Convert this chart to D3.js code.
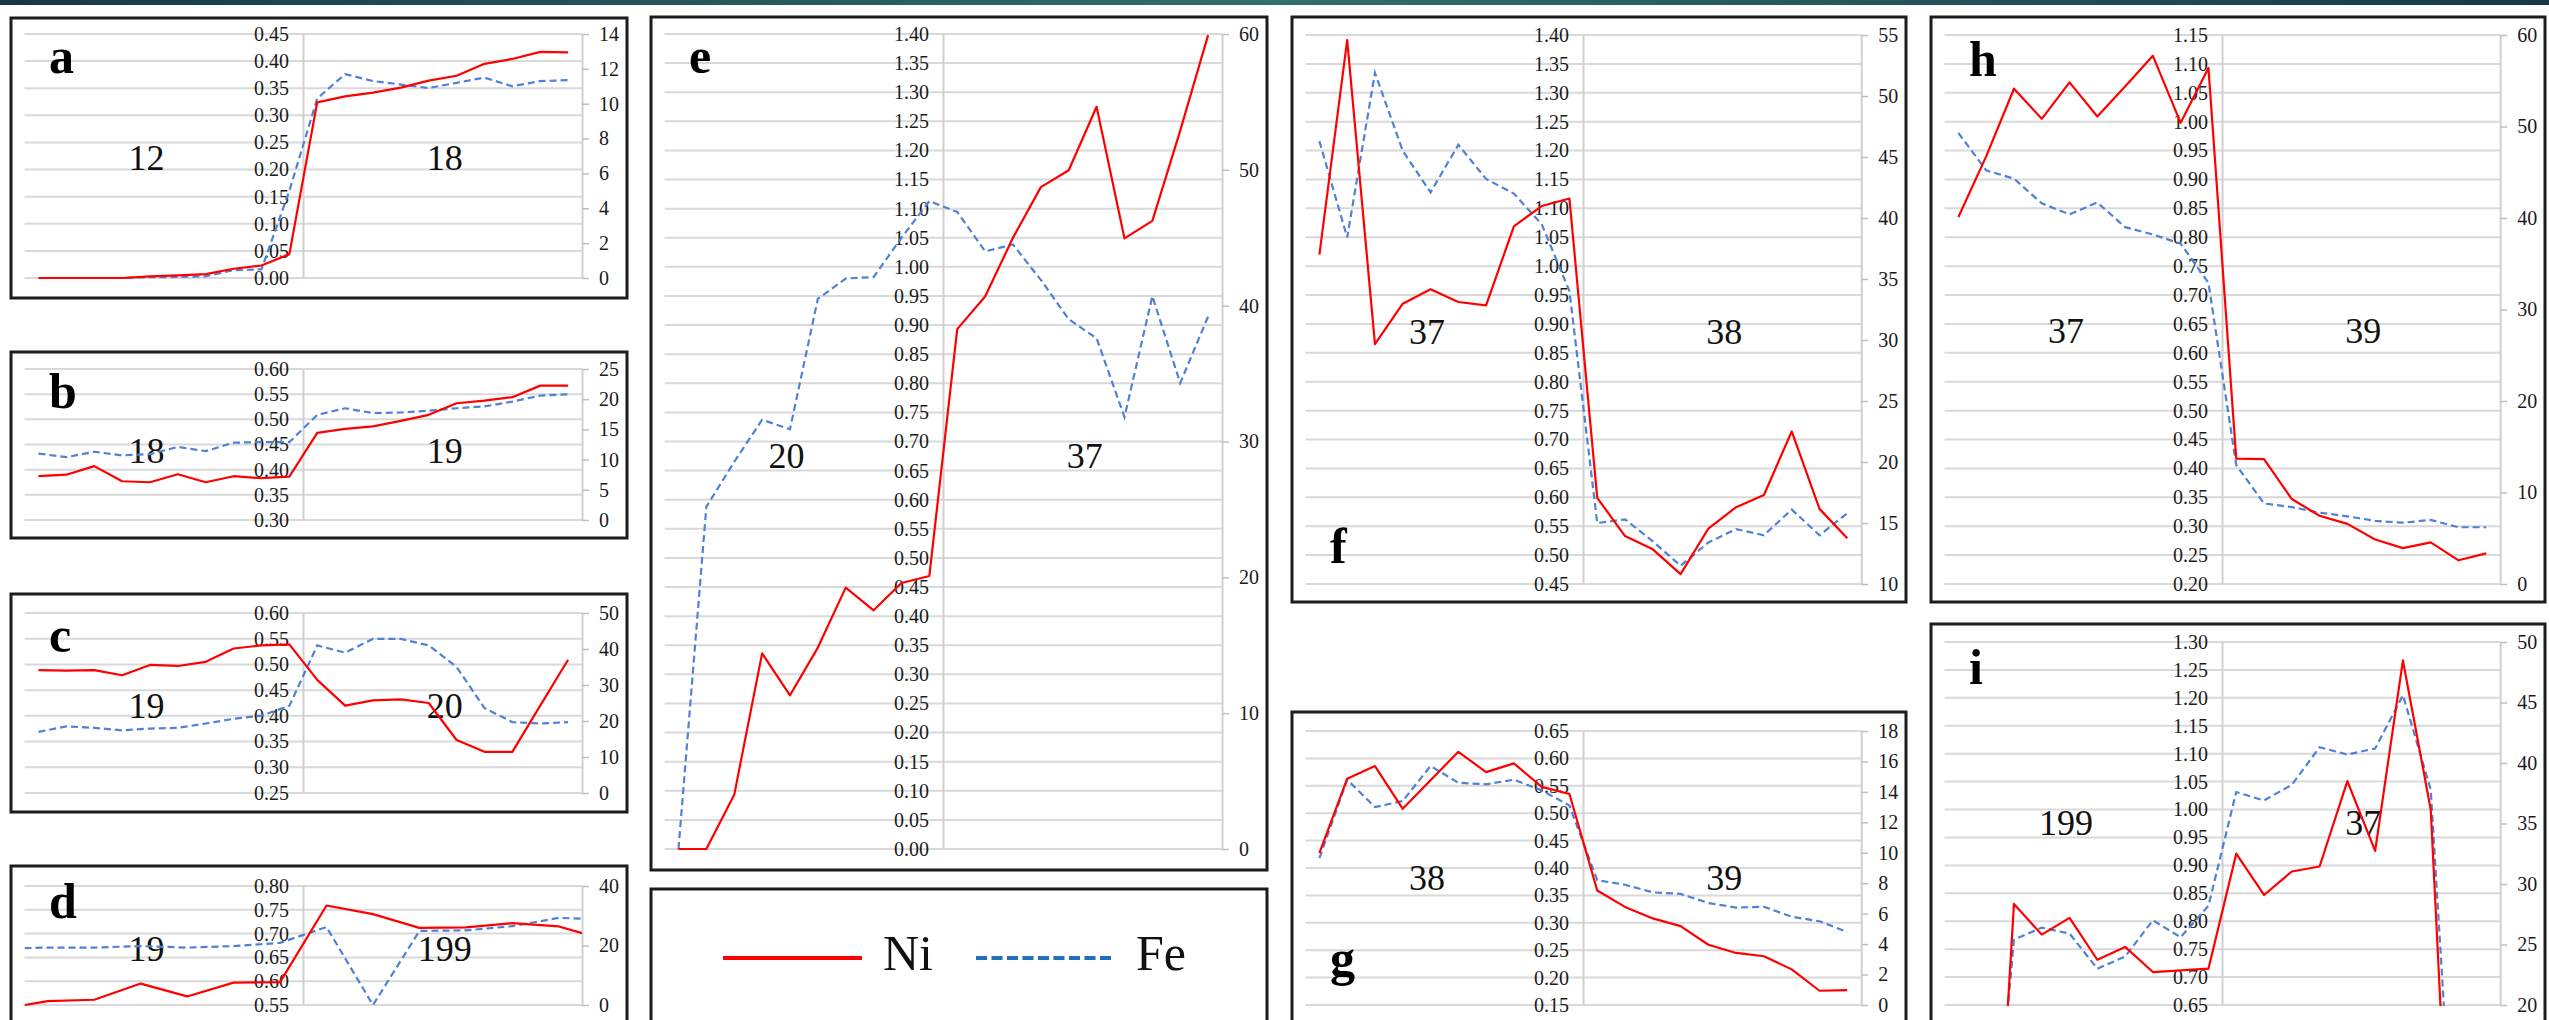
<!DOCTYPE html>
<html><head><meta charset="utf-8">
<script src="https://cdn.jsdelivr.net/npm/d3@7"></script>
<style>html,body{margin:0;padding:0;background:#fff;overflow:hidden}</style>
</head><body><svg id="c" width="2549" height="1020"></svg>
<script>
// ---------------- DATA ----------------
const seriesNames = ["Ni", "Fe"];

const aCats = ["12", "18"];
const aNi = [0,0,0,0,0.003,0.005,0.007,0.017,0.023,0.044,0.324,0.335,0.342,0.351,0.364,0.373,0.395,0.404,0.417,0.416];
const aFe = [0,0,0,0,0.05,0.06,0.1,0.45,0.5,5.0,10.3,11.7,11.3,11.1,10.9,11.2,11.5,11.0,11.3,11.35];
const aLeftTicks = d3.range(0, 0.4501, 0.05);
const aRightTicks = d3.range(0, 14.01, 2);

const bCats = ["18", "19"];
const bNi = [0.387,0.390,0.407,0.377,0.375,0.391,0.375,0.387,0.383,0.386,0.473,0.481,0.486,0.497,0.509,0.532,0.537,0.544,0.567,0.567];
const bFe = [11.0,10.4,11.3,10.7,10.9,12.1,11.4,12.8,12.9,12.9,17.4,18.5,17.7,17.8,18.1,18.5,18.8,19.6,20.6,20.8];
const bLeftTicks = d3.range(0.30, 0.6001, 0.05);
const bRightTicks = d3.range(0, 25.01, 5);

const cCats = ["19", "20"];
const cNi = [0.489,0.488,0.489,0.479,0.499,0.497,0.505,0.531,0.537,0.539,0.470,0.420,0.430,0.432,0.425,0.353,0.330,0.330,0.420,0.509];
const cFe = [17.0,18.5,18.1,17.4,17.9,18.1,19.3,20.6,21.5,24.2,41.0,39.0,42.8,42.8,41.0,35.0,23.6,19.7,19.3,19.7];
const cLeftTicks = d3.range(0.25, 0.6001, 0.05);
const cRightTicks = d3.range(0, 50.01, 10);

const dCats = ["19", "199"];
const dPos = [0,0.5,1.5,2.5,3.5,4.5,5.5,6.5,7.5,8.5,9.5,10.5,11.5,12];
const dNi = [0.550,0.558,0.561,0.595,0.568,0.597,0.598,0.759,0.741,0.712,0.713,0.722,0.715,0.701];
const dFe = [19.1,19.3,19.3,19.8,19.3,19.8,20.9,26.2,0,24.9,25.1,26.5,29.3,29.0];
const dLeftTicks = d3.range(0.55, 0.8001, 0.05);
const dRightTicks = [0, 20, 40];

const eCats = ["20", "37"];
const eNi = [0,0,0.093,0.336,0.264,0.346,0.449,0.410,0.457,0.469,0.893,0.949,1.050,1.137,1.166,1.275,1.049,1.079,1.234,1.398];
const eFe = [0,25.2,28.5,31.6,30.9,40.5,42.0,42.1,45.0,47.7,46.9,44.0,44.5,41.9,39.0,37.6,31.8,40.7,34.3,39.2];
const eLeftTicks = d3.range(0, 1.4001, 0.05);
const eRightTicks = d3.range(0, 60.01, 10);

const fCats = ["37", "38"];
const fNi = [1.020,1.391,0.865,0.935,0.960,0.938,0.932,1.069,1.104,1.117,0.599,0.533,0.510,0.467,0.546,0.583,0.604,0.714,0.580,0.529];
const fFe = [46.3,38.4,51.9,45.5,42.1,46.0,43.2,42.0,39.5,34.0,15.0,15.3,13.5,11.5,13.4,14.5,14.0,16.1,14.0,15.8];
const fLeftTicks = d3.range(0.45, 1.4001, 0.05);
const fRightTicks = d3.range(10, 55.01, 5);

const gCats = ["38", "39"];
const gNi = [0.427,0.563,0.586,0.508,0.560,0.612,0.575,0.591,0.548,0.535,0.359,0.329,0.308,0.294,0.260,0.245,0.239,0.215,0.176,0.177];
const gFe = [9.65,14.8,13.0,13.4,15.7,14.6,14.5,14.8,14.1,13.1,8.2,7.9,7.4,7.3,6.7,6.4,6.45,5.8,5.5,4.8];
const gLeftTicks = d3.range(0.15, 0.6501, 0.05);
const gRightTicks = d3.range(0, 18.01, 2);

const hCats = ["37", "39"];
const hNi = [0.835,0.940,1.057,1.005,1.068,1.009,1.061,1.114,0.998,1.093,0.417,0.416,0.347,0.318,0.304,0.277,0.262,0.272,0.241,0.253];
const hFe = [49.3,45.2,44.3,41.6,40.4,41.7,39.0,38.2,37.2,32.9,13.0,8.8,8.4,7.8,7.4,6.9,6.7,7.0,6.2,6.2];
const hLeftTicks = d3.range(0.20, 1.1501, 0.05);
const hRightTicks = d3.range(0, 60.01, 10);

const iCats = ["199", "37"];
const iNi = [0,0,0.831,0.776,0.806,0.731,0.754,0.709,0.712,0.715,0.921,0.847,0.889,0.898,1.051,0.926,1.267,1.000,0,0];
const iFe = [0,0,25.4,26.4,25.9,23.0,24.0,27.0,25.6,28.2,37.6,36.9,38.2,41.3,40.7,41.2,45.6,37.8,0,0];
const iLeftTicks = d3.range(0.65, 1.3001, 0.05);
const iRightTicks = d3.range(20, 50.01, 5);

// ---------------- LAYOUT ----------------
const panels = [
  {id:"a", cats:aCats, ni:aNi, fe:aFe, lt:aLeftTicks, rt:aRightTicks, box:[11,18,616,280], pt:34, pb:278, catY:157, letY:73},
  {id:"b", cats:bCats, ni:bNi, fe:bFe, lt:bLeftTicks, rt:bRightTicks, box:[11,352,616,186], pt:369, pb:520, catY:450, letY:408},
  {id:"c", cats:cCats, ni:cNi, fe:cFe, lt:cLeftTicks, rt:cRightTicks, box:[11,594,616,218], pt:613, pb:793, catY:705, letY:652},
  {id:"d", cats:dCats, ni:dNi, fe:dFe, lt:dLeftTicks, rt:dRightTicks, box:[11,866,616,160], pt:886, pb:1005, catY:948, letY:918, pos:dPos, n:12},
  {id:"e", cats:eCats, ni:eNi, fe:eFe, lt:eLeftTicks, rt:eRightTicks, box:[651,17,616,853], pt:34, pb:849, catY:455, letY:73},
  {id:"f", cats:fCats, ni:fNi, fe:fFe, lt:fLeftTicks, rt:fRightTicks, box:[1292,17,614,585], pt:35, pb:584, catY:331, letY:563},
  {id:"g", cats:gCats, ni:gNi, fe:gFe, lt:gLeftTicks, rt:gRightTicks, box:[1292,712,614,316], pt:731, pb:1005, catY:877, letY:975},
  {id:"h", cats:hCats, ni:hNi, fe:hFe, lt:hLeftTicks, rt:hRightTicks, box:[1931,17,614,585], pt:35, pb:584, catY:330, letY:76},
  {id:"i", cats:iCats, ni:iNi, fe:iFe, lt:iLeftTicks, rt:iRightTicks, box:[1931,624,614,404], pt:642, pb:1005, catY:822, letY:684}
];

const SERIF = "'Liberation Serif','Times New Roman',serif";
const RED = "#ff0000", BLUE = "#4f82d4";
const svg = d3.select("#c");
const defs = svg.append("defs");

// top banner
const grad = defs.append("linearGradient").attr("id","ban").attr("x1","0%").attr("x2","100%");
grad.append("stop").attr("offset","0%").attr("stop-color","#173748");
grad.append("stop").attr("offset","50%").attr("stop-color","#32706a");
grad.append("stop").attr("offset","100%").attr("stop-color","#163848");
svg.append("rect").attr("x",0).attr("y",0).attr("width",2549).attr("height",5).attr("fill","url(#ban)");

panels.forEach(p => {
  const [bx, by, bw, bh] = p.box;
  const g = svg.append("g");
  g.append("rect").attr("x",bx).attr("y",by).attr("width",bw).attr("height",bh)
    .attr("fill","#fff").attr("stroke","#1c1c1c").attr("stroke-width",3);

  const L = bx + 0.022*bw, C = bx + 0.474*bw, R = bx + 0.927*bw;
  const yL = d3.scaleLinear().domain(d3.extent(p.lt)).range([p.pb, p.pt]);
  const yR = d3.scaleLinear().domain(d3.extent(p.rt)).range([p.pb, p.pt]);
  const n = p.n || p.ni.length;
  const xs = d3.scaleLinear().domain([0, n]).range([L, R]);
  const pos = p.pos || p.ni.map((v,i)=>i+0.5);

  // gridlines
  g.append("g").selectAll("line").data(p.lt).join("line")
    .attr("x1",L).attr("x2",R).attr("y1",d=>yL(d)).attr("y2",d=>yL(d))
    .attr("stroke","#d9d9d9").attr("stroke-width",2);

  // category labels
  g.append("g").selectAll("text").data(p.cats).join("text")
    .attr("x",(d,i)=> bx + (i===0?0.22:0.704)*bw)
    .attr("y",p.catY).attr("dy","0.35em").attr("text-anchor","middle")
    .attr("font-family",SERIF).attr("font-size",36).attr("fill","#111").text(d=>d);

  // left (primary) axis at center
  const axL = g.append("g").attr("transform",`translate(${C},0)`)
    .call(d3.axisLeft(yL).tickValues(p.lt).tickFormat(d3.format(".2f")).tickSize(0).tickSizeOuter(0).tickPadding(14));
  axL.select(".domain").attr("stroke","#d0d0d0").attr("stroke-width",2);
  axL.selectAll("text").attr("font-family",SERIF).attr("font-size",20).attr("fill","#1a1a1a");

  // right (secondary) axis
  const axR = g.append("g").attr("transform",`translate(${R},0)`)
    .call(d3.axisRight(yR).tickValues(p.rt).tickFormat(d3.format("d")).tickSize(7).tickSizeOuter(0).tickPadding(10));
  axR.select(".domain").attr("stroke","#d0d0d0").attr("stroke-width",2);
  axR.selectAll(".tick line").attr("stroke","#bfbfbf").attr("stroke-width",1.5);
  axR.selectAll("text").attr("font-family",SERIF).attr("font-size",20).attr("fill","#1a1a1a");

  // clip
  const cid = "clip-" + p.id;
  defs.append("clipPath").attr("id",cid).append("rect")
    .attr("x",L).attr("y",p.pt-1).attr("width",R-L).attr("height",p.pb-p.pt+2);

  const lineL = d3.line().x((d,i)=>xs(pos[i])).y(d=>yL(d));
  const lineR = d3.line().x((d,i)=>xs(pos[i])).y(d=>yR(d));
  const lg = g.append("g").attr("clip-path",`url(#${cid})`);
  lg.append("path").datum(p.fe).attr("d",lineR).attr("fill","none")
    .attr("stroke",BLUE).attr("stroke-width",2.2).attr("stroke-dasharray","7,4");
  lg.append("path").datum(p.ni).attr("d",lineL).attr("fill","none")
    .attr("stroke",RED).attr("stroke-width",2.2).attr("stroke-linejoin","round");

  // panel letter
  g.append("text").attr("x",bx+38).attr("y",p.letY)
    .attr("font-family",SERIF).attr("font-weight","bold").attr("font-size",50).attr("fill","#000").text(p.id);
});

// legend
const lgBox = [651, 889, 616, 160];
const leg = svg.append("g");
leg.append("rect").attr("x",lgBox[0]).attr("y",lgBox[1]).attr("width",lgBox[2]).attr("height",lgBox[3])
  .attr("fill","#fff").attr("stroke","#1c1c1c").attr("stroke-width",3);
const legItems = [
  {name: seriesNames[0], color:"#ff0000", dash:null, x:723},
  {name: seriesNames[1], color:"#1f6fc1", dash:"11,4.5", x:976}
];
legItems.forEach(it => {
  leg.append("line").attr("x1",it.x).attr("x2",it.x+139).attr("y1",958).attr("y2",958)
    .attr("stroke",it.color).attr("stroke-width",4).attr("stroke-dasharray",it.dash);
  leg.append("text").attr("x",it.x+160).attr("y",970).attr("font-family",SERIF)
    .attr("font-size",50).attr("fill","#111").text(it.name);
});
</script>
</body></html>
